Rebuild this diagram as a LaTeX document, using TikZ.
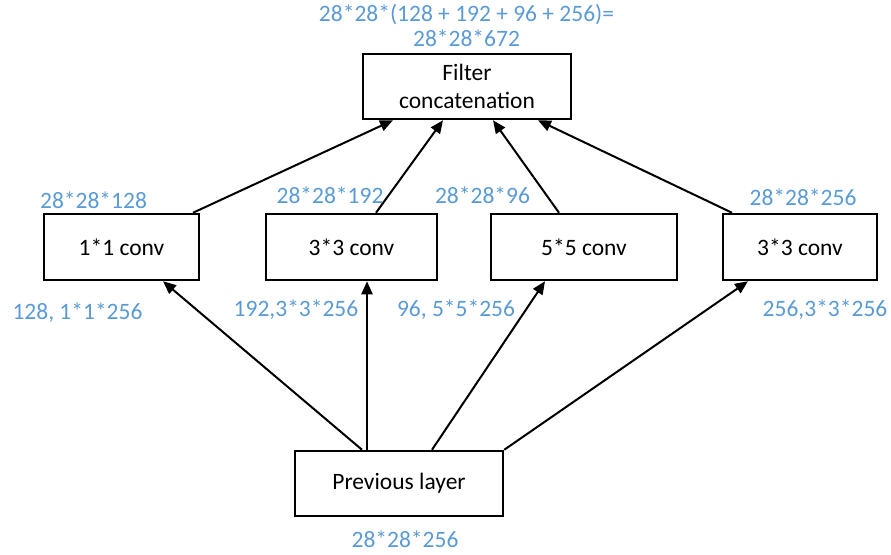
\documentclass[tikz,border=0pt]{standalone}
\usepackage{fontspec}
\setmainfont{Carlito}
\usetikzlibrary{calc,arrows.meta}
\definecolor{dimblue}{RGB}{91,155,213}
\tikzset{
  layerbox/.style={draw=black, line width=2.5pt, fill=white, inner sep=0pt,
    font=\fontsize{23.5}{28}\selectfont, align=center},
  dimlabel/.style={text=dimblue, inner sep=0pt, font=\fontsize{23.5}{28}\selectfont},
  flow/.style={line width=2pt, -{Triangle[length=13pt,width=11pt]}}
}
\begin{document}
\begin{tikzpicture}[x=1pt,y=-1pt]
\useasboundingbox (0,0) rectangle (891,554);

% layers
\node[layerbox, minimum width=208pt, minimum height=65pt] (fc) at (467,86.5) {Filter\\concatenation};
\node[layerbox, minimum width=155pt, minimum height=66pt] (c1) at (121.5,247) {1*1 conv};
\node[layerbox, minimum width=171pt, minimum height=66pt] (c2) at (351.5,247) {3*3 conv};
\node[layerbox, minimum width=186pt, minimum height=66pt] (c3) at (584,247) {5*5 conv};
\node[layerbox, minimum width=154pt, minimum height=66pt] (c4) at (800,247) {3*3 conv};
\node[layerbox, minimum width=208pt, minimum height=65pt] (pl) at (399,483.5) {Previous layer};

% previous layer to the parallel convolutions
\draw[flow] ($(pl.north)+(-37,0)$) -- ($(c1.south)+(41.5,0)$);
\draw[flow] ($(pl.north)+(-32,0)$) -- ($(c2.south)+(15.5,0)$);
\draw[flow] ($(pl.north)+(33,0)$) -- ($(c3.south)+(-39,0)$);
\draw[flow] (pl.north east) -- ($(c4.south)+(-52,0)$);

% convolutions to the concatenation
\draw[flow] ($(c1.north)+(71.5,0)$) -- ($(fc.south)+(-74,0)$);
\draw[flow] ($(c2.north)+(24.5,0)$) -- ($(fc.south)+(-24,0)$);
\draw[flow] ($(c3.north)+(-25,0)$) -- ($(fc.south)+(26,0)$);
\draw[flow] ($(c4.north)+(-68,0)$) -- ($(fc.south)+(71,0)$);

% tensor sizes and filter counts
\node[dimlabel] (top1) at (466.5,15) {28*28*(128 + 192 + 96 + 256)=};
\node[dimlabel] (top2) at (466.5,38) {28*28*672};
\node[dimlabel] (o1) at (93.5,200) {28*28*128};
\node[dimlabel] (o2) at (330,195) {28*28*192};
\node[dimlabel] (o3) at (482.5,195) {28*28*96};
\node[dimlabel] (o4) at (803,197) {28*28*256};
\node[dimlabel] (k1) at (77.5,313) {128, 1*1*256};
\node[dimlabel] (k2) at (296,310) {192,3*3*256};
\node[dimlabel] (k3) at (456,310) {96, 5*5*256};
\node[dimlabel] (k4) at (825,310) {256,3*3*256};
\node[dimlabel] (in) at (405,539.5) {28*28*256};
\end{tikzpicture}
\end{document}
